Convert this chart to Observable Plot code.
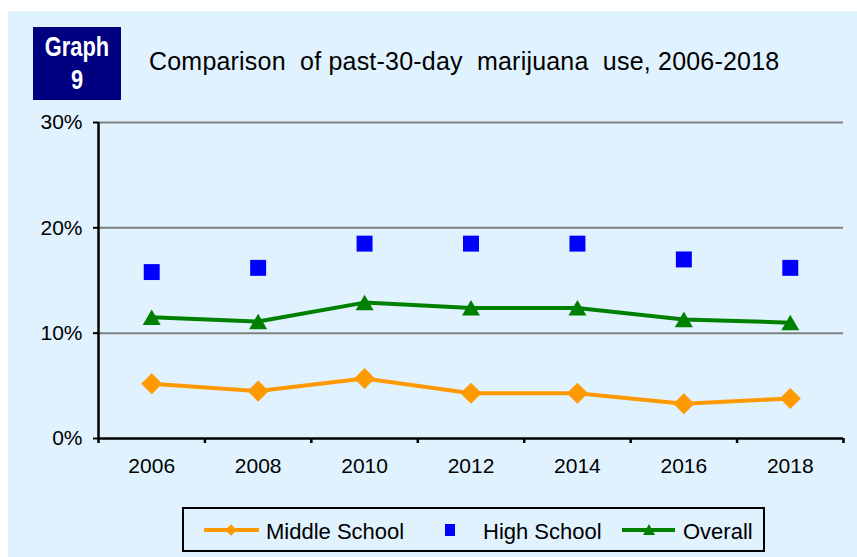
<!DOCTYPE html>
<html>
<head>
<meta charset="utf-8">
<script src="https://cdn.jsdelivr.net/npm/d3@7"></script>
<script src="https://cdn.jsdelivr.net/npm/@observablehq/plot@0.6"></script>
<style>
  html, body { margin: 0; padding: 0; background: #ffffff; }
  body { width: 857px; height: 557px; position: relative; overflow: hidden; font-family: "Liberation Sans", Arial, sans-serif; color: #000; }
  #panel { position: absolute; left: 8px; top: 11px; width: 849px; height: 546px; background: #E0F2FE; }
  #badge { position: absolute; left: 33px; top: 27px; width: 88px; height: 73px; background: #000080; }
  .badge-line { position: absolute; left: 0; width: 88px; text-align: center; color: #fff; font-family: "Liberation Sans", Arial, sans-serif; font-weight: bold; font-size: 28px; line-height: 28px; transform: scaleX(0.78); transform-origin: 44px 0; }
  #title { position: absolute; left: 149px; top: 49px; font-size: 25px; line-height: 25px; white-space: pre; letter-spacing: 0.2px; }
  #chart { position: absolute; left: 0; top: 0; }
  #legend { position: absolute; left: 182px; top: 507px; width: 583px; height: 45px; box-sizing: border-box; border: 2px solid #000; background: #E0F2FE; }
  .lg { position: absolute; }
  .lgtext { position: absolute; top: 521px; font-size: 22px; line-height: 22px; white-space: pre; }
</style>
</head>
<body>
<div id="panel"></div>
<div id="badge">
  <div class="badge-line" style="top:6px">Graph</div>
  <div class="badge-line" style="top:39px">9</div>
</div>
<div id="title">Comparison  of past-30-day  marijuana  use, 2006-2018</div>
<div id="chart"></div>
<div id="legend"></div>
<div class="lg" style="left:204px;top:528px;width:55px;height:4px;background:#FF9900"></div>
<div class="lg" style="left:227px;top:526px;width:8px;height:8px;background:#FF9900;transform:rotate(45deg)"></div>
<div class="lgtext" style="left:266px">Middle School</div>
<div class="lg" style="left:445px;top:524px;width:10px;height:12px;background:#0000FF"></div>
<div class="lgtext" style="left:483px">High School</div>
<div class="lg" style="left:622px;top:528px;width:53px;height:4px;background:#008000"></div>
<div class="lg" style="left:643px;top:524px;width:0;height:0;border-left:6.5px solid transparent;border-right:6.5px solid transparent;border-bottom:11px solid #008000"></div>
<div class="lgtext" style="left:683px">Overall</div>
<script>
const years = ["2006", "2008", "2010", "2012", "2014", "2016", "2018"];
const middleSchool = [5.2, 4.5, 5.7, 4.3, 4.3, 3.3, 3.8];
const highSchool = [15.8, 16.2, 18.5, 18.5, 18.5, 17.0, 16.2];
const overall = [11.5, 11.1, 12.9, 12.4, 12.4, 11.3, 11.0];
const yTicks = [0, 10, 20, 30];
const gridLines = [10, 20, 30];

const rows = (vals) => vals.map((v, i) => ({i: i + 0.5, year: years[i], value: v / 100}));
const ms = rows(middleSchool), hs = rows(highSchool), ov = rows(overall);

const chart = Plot.plot({
  width: 857,
  height: 490,
  marginLeft: 98,
  marginRight: 14,
  marginTop: 122,
  marginBottom: 52,
  style: {background: "transparent", fontFamily: "'Liberation Sans', Arial, sans-serif", fontSize: "21px", color: "#000", overflow: "visible"},
  x: {type: "linear", domain: [0, years.length]},
  y: {type: "linear", domain: [0, 0.30]},
  marks: [
    Plot.ruleY(gridLines.map(d => d / 100), {stroke: "#808080", strokeWidth: 2}),
    Plot.axisY(yTicks.map(d => d / 100), {tickFormat: d3.format(".0%"), tickSize: 5, tickPadding: 11, stroke: "#000", strokeWidth: 2, fill: "#000", fontSize: 21, label: null}),
    Plot.axisX(d3.range(years.length + 1), {tickFormat: () => "", tickSize: 5, stroke: "#000", strokeWidth: 2.5, label: null}),
    Plot.text(years, {x: (d, i) => i + 0.5, frameAnchor: "bottom", dy: 28, lineAnchor: "middle", fill: "#000", fontSize: 21}),
    Plot.ruleX([0], {stroke: "#000", strokeWidth: 2.5}),
    Plot.ruleY([0], {stroke: "#000", strokeWidth: 2.5}),
    Plot.line(ms, {x: "i", y: "value", stroke: "#FF9900", strokeWidth: 4}),
    Plot.dot(ms, {x: "i", y: "value", symbol: "diamond2", r: 9.5, fill: "#FF9900"}),
    Plot.dot(hs, {x: "i", y: "value", symbol: "square", r: 9, fill: "#0000FF"}),
    Plot.line(ov, {x: "i", y: "value", stroke: "#008000", strokeWidth: 4}),
    Plot.dot(ov, {x: "i", y: "value", symbol: "triangle2", r: 8.6, dy: 2.5, fill: "#008000"})
  ]
});
document.getElementById("chart").appendChild(chart);
</script>
</body>
</html>
